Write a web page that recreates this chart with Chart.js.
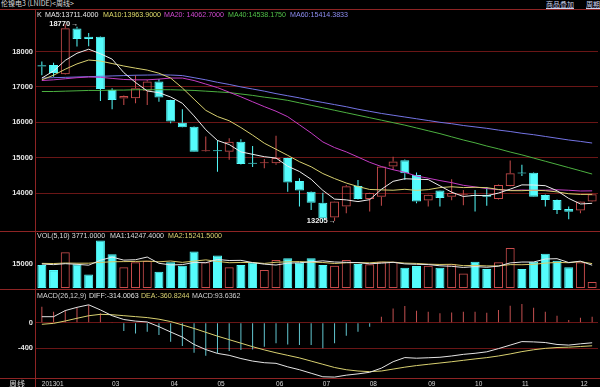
<!DOCTYPE html>
<html>
<head>
<meta charset="utf-8">
<title>伦镍电3 周线</title>
<script src="https://cdn.jsdelivr.net/npm/chart.js@4.4.1/dist/chart.umd.min.js"></script>
<style>
  html, body { margin: 0; padding: 0; background: #000; }
  #wrap { position: relative; width: 600px; height: 387px; background: #000; overflow: hidden; }
  #wrap canvas { position: absolute; left: 0; }
  .bar-txt { position: absolute; font: 7px/8px "Noto Sans CJK SC", sans-serif; white-space: nowrap; }
  #title { left: 1px; top: -1px; color: #d8d8d8; }
  .link { top: 0; color: #c8d2ee; text-decoration: underline; }
</style>
</head>
<body>
<div id="wrap">
  <div id="title" class="bar-txt">伦镍电3 (LNIDE)&lt;周线&gt;</div>
  <div class="bar-txt link" style="left:546px">商品叠加</div>
  <div class="bar-txt link" style="left:586px">周期</div>
  <canvas id="kChart" width="600" height="222" style="top:9px"></canvas>
  <canvas id="volChart" width="600" height="58" style="top:231px"></canvas>
  <canvas id="macdChart" width="600" height="98" style="top:289px"></canvas>
</div>
<script>
// 週足 2013年 (48本)
const weekLabels = ['201301','','','','','', '03','','','','', '04','','','', '05','','','','', '06','','','', '07','','','', '08','','','','', '09','','','', '10','','','', '11','','','','', '12',''];

const opens  = [17610,17620,17355,18650,18420,18420,16910,16670,16680,16890,17150,16630,15990,15875,15180,15200,15170,15450,14850,14840,14840,14990,14340,14040,13730,13310,13620,14200,13830,13900,14750,14930,14510,13790,14070,13900,13940,13930,13950,13830,14200,14570,14575,13945,13805,13550,13505,13760];
const highs  = [17720,17680,18770,18700,18520,18430,16960,16760,17330,17200,17220,16640,16370,15890,15600,15500,15550,15520,15330,14960,15620,15000,14420,14050,14010,13770,14230,14370,14010,14760,15030,14950,14580,13960,14080,14390,14090,14090,14170,14240,14920,14800,14590,13960,13820,13620,13770,13980];
const lows   = [17330,17290,17340,18140,18150,16600,16370,16490,16540,16490,16580,15970,15850,15160,15170,14600,14940,14810,14740,14700,14800,14040,13620,13520,13205,13210,13430,13820,13480,13640,14650,14370,13710,13620,13620,13800,13660,13480,13640,13820,14190,14480,13890,13620,13410,13260,13430,13750];
const closes = [17580,17390,18655,18350,18350,16940,16630,16745,16960,17150,16700,16020,15860,15170,15200,15180,15450,14820,14830,14860,14990,14300,14070,13730,13290,13760,14190,13830,14000,14750,14890,14560,13760,13950,13860,14000,13950,13920,13900,14230,14560,14550,13900,13805,13520,13475,13760,13970];

const ma5  = [17250,17450,17750,17950,18065,17937,17785,17403,17125,16885,16837,16715,16538,16180,15790,15486,15372,15164,15096,15028,14990,14760,14610,14390,14076,13830,13808,13760,13814,14106,14332,14406,14392,14382,14204,14026,13904,13936,13926,14000,14112,14232,14228,14209,14067,13850,13692,13711.4];
const ma10 = [17200,17330,17500,17650,17760,17730,17660,17590,17530,17475,17387,17250,16971,16653,16338,16162,16044,15851,15638,15409,15238,15066,14887,14743,14552,14410,14284,14185,14102,14091,14081,14107,14076,14098,14155,14179,14155,14164,14154,14102,14069,14068,14082,14068,14034,13981,13962,13963.9];
const ma20 = [17180,17200,17230,17260,17280,17270,17240,17210,17200,17200,17220,17250,17250,17180,17080,16980,16850,16720,16580,16442,16313,16158,15929,15698,15445,15286,15164,15018,14870,14750,14660,14587,14482,14421,14354,14295,14220,14175,14128,14097,14075,14088,14079,14083,14094,14080,14059,14062.7];
const ma40 = [16870,16870,16880,16890,16900,16900,16910,16910,16920,16920,16920,16920,16910,16900,16880,16860,16840,16800,16760,16710,16670,16620,16550,16480,16410,16340,16270,16200,16130,16060,15990,15920,15840,15760,15680,15590,15500,15420,15330,15250,15160,15080,14990,14900,14810,14720,14630,14538.175];
const ma60 = [17250,17260,17270,17280,17290,17300,17310,17320,17330,17335,17340,17335,17320,17260,17200,17130,17070,17000,16940,16880,16810,16750,16690,16620,16560,16500,16440,16370,16310,16250,16200,16150,16100,16050,16000,15960,15910,15870,15830,15780,15740,15690,15650,15600,15550,15500,15460,15414.3833];

const vols    = [14370,11200,22400,14800,8480,29750,21140,12900,16080,16900,10130,16080,13920,22780,16080,20250,12900,14370,15820,11200,17530,18600,15800,18600,14370,13920,17530,15000,14800,16460,16460,12660,13730,13920,12660,14800,9110,16460,11830,16080,24940,11830,16460,21330,17090,12900,16080,3771];
const volMa5  = [15000,14600,15200,14800,14250,17326,19314,17414,17670,19354,15430,14418,14622,15962,15798,17822,17186,17276,15884,14908,14364,15504,15790,16346,16980,16258,16044,15884,15124,15542,16050,15076,14822,14646,13886,13554,12844,13390,12972,13656,15684,16228,16228,18128,18330,15922,16772,14247.4];
const volMa10 = [15400,15300,15600,15500,15500,16000,16400,16500,16600,16802,16378,16866,16018,16816,17576,16626,15802,15949,15923,15353,16093,16345,16533,16115,15944,15311,15774,15837,15735,16261,16154,15560,15353,14885,14714,14802,13960,14106,13809,13771,14619,14536,14809,15550,15993,15803,16500,15241.5];

const diff = [94,94,190,240,280,200,110,50,25,12,-62,-145,-225,-340,-420,-480,-510,-560,-600,-625,-635,-690,-735,-790,-845,-850,-820,-800,-775,-710,-610,-545,-555,-548,-540,-520,-495,-478,-455,-405,-350,-295,-300,-310,-340,-350,-330,-314.0063];
const dea  = [-25,-10,27,69,109,131,125,110,95,80,55,18,-35,-90,-150,-210,-265,-320,-375,-425,-470,-510,-550,-600,-650,-700,-735,-755,-765,-755,-725,-695,-670,-650,-630,-610,-588,-566,-546,-520,-488,-452,-423,-401,-388,-382,-372,-360.8244];
const macdHist = [250,172,198,234,276,146,10,-130,-167,-140,-193,-297,-365,-469,-516,-479,-443,-427,-417,-375,-323,-339,-349,-349,-401,-323,-203,-141,-62,94,224,260,188,172,146,161,172,172,156,198,266,292,234,172,109,42,78,93.6362];

const priceTicks = [14000, 15000, 16000, 17000, 18000];
const volTicks = [15000];
const macdTicks = [0, -400];

// ---- 見た目 ----
const UP = '#c84c4c', DOWN = '#54fcfc', GRID = '#6a1616', FRAME = '#8e2424';
const FONT = '"Liberation Sans", Arial, sans-serif';
const TICK_FONT = {family: FONT, size: 7.5, weight: 'bold'};
const HEAD_FONT = '7.1px ' + FONT;

Chart.defaults.font.family = FONT;

const isUp = closes.map((c, i) => c >= opens[i]);
const candleColor = isUp.map(u => u ? UP : DOWN);
const last = a => a[a.length - 1].toFixed(4);

// 枠線・区切り線・ヘッダー文字
const panelPlugin = {
  id: 'panel',
  afterDraw(chart, args, opts) {
    const {ctx, chartArea: a, width, height} = chart;
    ctx.save();
    ctx.strokeStyle = FRAME;
    ctx.lineWidth = 1;
    ctx.beginPath();
    ctx.moveTo(0, a.top + 0.5); ctx.lineTo(width, a.top + 0.5);
    if (opts.bottomLine) { ctx.moveTo(0, a.bottom - 0.5); ctx.lineTo(width, a.bottom - 0.5); }
    ctx.moveTo(a.left - 0.5, 0); ctx.lineTo(a.left - 0.5, height);
    ctx.stroke();

    ctx.font = HEAD_FONT;
    ctx.textBaseline = 'middle';
    ctx.textAlign = 'left';
    (opts.header || []).forEach(h => {
      ctx.fillStyle = h.color;
      ctx.fillText(h.text, h.x, opts.headerY);
    });
    if (opts.corner) {
      ctx.font = '8px "Noto Sans CJK SC", sans-serif';
      ctx.fillStyle = '#dcdcdc';
      ctx.fillText(opts.corner, 9, (a.bottom + height) / 2 + 0.5);
    }
    ctx.restore();
  }
};

// 最高値・最安値のラベル
const extremePlugin = {
  id: 'extremes',
  afterDatasetsDraw(chart) {
    const {ctx, scales: {x, y}} = chart;
    const hi = highs.indexOf(Math.max(...highs));
    const lo = lows.indexOf(Math.min(...lows));
    ctx.save();
    ctx.fillStyle = '#f0f0f0';
    ctx.textBaseline = 'middle';
    [[hi, highs[hi]], [lo, lows[lo]]].forEach(([i, v]) => {
      const px = x.getPixelForValue(i) - 16;
      const py = y.getPixelForValue(v);
      ctx.font = 'bold 7.5px ' + FONT;
      ctx.fillText(String(v), px, py);
      ctx.font = '7px ' + FONT;
      ctx.fillText('→', px + 22, py);
    });
    ctx.restore();
  }
};

const lineDs = (data, color) => ({type: 'line', data, borderColor: color, borderWidth: 1, pointRadius: 0, tension: 0, order: 0});

const yAxis = (min, max, ticks, showGrid) => ({
  min, max, position: 'left',
  afterFit: s => { s.width = 36; s.paddingTop = 0; s.paddingBottom = 0; },
  afterBuildTicks: s => { s.ticks = ticks.map(v => ({value: v})); },
  ticks: {color: '#e4e4e4', font: TICK_FONT, padding: 3, autoSkip: false, callback: v => String(v)},
  grid: {display: showGrid, color: GRID, drawTicks: false},
  border: {display: false}
});

const xHidden = {type: 'category', display: false, offset: true, grid: {display: false, drawTicks: false}};

const baseOptions = (x, y, panel) => ({
  responsive: false, devicePixelRatio: 1, animation: false, events: [],
  layout: {padding: {left: 0, right: 2, top: 0, bottom: 0}},
  plugins: {legend: {display: false}, tooltip: {enabled: false}, panel},
  scales: {x, y}
});

// ---- K線 ----
new Chart(document.getElementById('kChart'), {
  type: 'bar',
  data: {
    labels: weekLabels,
    datasets: [
      lineDs(ma5, '#ececec'),
      lineDs(ma10, '#d8d070'),
      lineDs(ma20, '#c43cc4'),
      lineDs(ma40, '#4cb040'),
      lineDs(ma60, '#7474e4'),
      {
        data: opens.map((o, i) => [o, closes[i]]),
        backgroundColor: isUp.map((u, i) => (!u || Math.abs(closes[i] - opens[i]) < 40) ? candleColor[i] : 'rgba(0,0,0,0)'),
        borderColor: candleColor, borderWidth: 1, borderSkipped: false, inflateAmount: 0,
        minBarLength: 1, barThickness: 9, grouped: false, order: 1
      },
      {
        data: highs.map((h, i) => [Math.max(opens[i], closes[i]), h]),
        backgroundColor: candleColor, barThickness: 1, grouped: false, inflateAmount: 0, order: 2
      },
      {
        data: lows.map((l, i) => [l, Math.min(opens[i], closes[i])]),
        backgroundColor: candleColor, barThickness: 1, grouped: false, inflateAmount: 0, order: 2
      }
    ]
  },
  options: baseOptions(xHidden, yAxis(12929, 19201, priceTicks, true), {
    headerY: 6,
    header: [
      {x: 37, text: 'K', color: '#e0e0e0'},
      {x: 45, text: 'MA5:' + last(ma5), color: '#e8e8e8'},
      {x: 103, text: 'MA10:' + last(ma10), color: '#e0dc6a'},
      {x: 164, text: 'MA20: ' + last(ma20), color: '#d048d0'},
      {x: 228, text: 'MA40:' + last(ma40), color: '#50c048'},
      {x: 290, text: 'MA60:' + last(ma60), color: '#8c8cf0'}
    ]
  }),
  plugins: [panelPlugin, extremePlugin]
});

// ---- 出来高 ----
new Chart(document.getElementById('volChart'), {
  type: 'bar',
  data: {
    labels: weekLabels,
    datasets: [
      lineDs(volMa5, '#e6e6e6'),
      lineDs(volMa10, '#d8c868'),
      {
        data: vols,
        backgroundColor: isUp.map(u => u ? 'rgba(0,0,0,0)' : DOWN),
        borderColor: candleColor, borderWidth: 1, borderSkipped: false, inflateAmount: 0,
        barThickness: 9, grouped: false, order: 1
      }
    ]
  },
  options: baseOptions(xHidden, yAxis(-625, 35625, volTicks, false), {
    headerY: 5,
    header: [
      {x: 37, text: 'VOL(5,10) ' + last(vols), color: '#dcdcdc'},
      {x: 110, text: 'MA1:' + last(volMa5), color: '#dcdcdc'},
      {x: 168, text: 'MA2:' + last(volMa10), color: '#d8d070'}
    ]
  }),
  plugins: [panelPlugin]
});

// ---- MACD ----
new Chart(document.getElementById('macdChart'), {
  type: 'bar',
  data: {
    labels: weekLabels,
    datasets: [
      lineDs(diff, '#e4e4e4'),
      lineDs(dea, '#d8d070'),
      {
        data: macdHist,
        backgroundColor: macdHist.map(v => v >= 0 ? '#c45050' : '#62c6d0'),
        barThickness: 1, grouped: false, inflateAmount: 0, order: 1
      }
    ]
  },
  options: baseOptions({
    type: 'category', offset: true, position: 'bottom',
    afterFit: s => { s.height = 8; s.paddingLeft = 0; s.paddingRight = 0; },
    ticks: {color: '#d4d4d4', font: {family: FONT, size: 6.5}, padding: 1, align: 'start',
            autoSkip: false, maxRotation: 0, minRotation: 0, callback: (v, i) => weekLabels[i]},
    grid: {display: false, drawTicks: false},
    border: {display: false}
  }, yAxis(-880, 527, macdTicks, true), {
    headerY: 6.7,
    bottomLine: true,
    corner: '周线',
    header: [
      {x: 37, text: 'MACD(26,12,9)', color: '#d4d4d4'},
      {x: 89, text: 'DIFF:' + last(diff), color: '#e0e0e0'},
      {x: 141, text: 'DEA:' + last(dea), color: '#d8d070'},
      {x: 192, text: 'MACD:' + last(macdHist), color: '#d0d0d0'}
    ]
  }),
  plugins: [panelPlugin]
});
</script>
</body>
</html>
